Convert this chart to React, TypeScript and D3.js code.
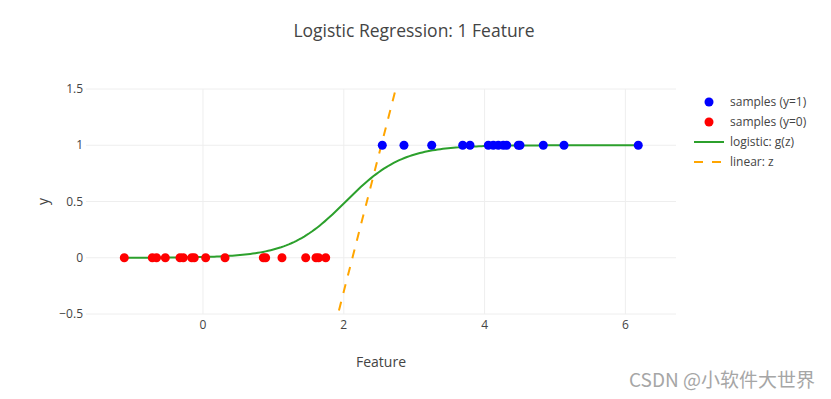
import React from "react";
import * as d3 from "d3";

const title = "Logistic Regression: 1 Feature";
const xTicks = [0, 2, 4, 6];
const yTicks = [-0.5, 0, 0.5, 1, 1.5];
const yTickLabels = ["−0.5", "0", "0.5", "1", "1.5"];
const samplesY1 = [2.547, 2.855, 3.249, 3.689, 3.793, 4.053, 4.124, 4.195, 4.266, 4.314, 4.479, 4.503, 4.834, 5.128, 6.183];
const samplesY0 = [-1.118, -0.72, -0.66, -0.535, -0.327, -0.28, -0.16, -0.124, 0.038, 0.313, 0.857, 0.89, 1.122, 1.459, 1.605, 1.643, 1.743];
const logisticWeight = 2.47;
const logisticBias = -5.01;
const linearWeight = 2.44;
const linearBias = -5.18;
const legendLabels = ["samples (y=1)", "samples (y=0)", "logistic: g(z)", "linear: z"];

const W = 831, H = 399;
const left = 86, right = 676, top = 89, bottom = 314;
const font = "'Open Sans', 'Noto Sans', sans-serif";

export default function App() {
  const x = d3.scaleLinear().domain([-1.6619, 6.719]).range([left, right]);
  const y = d3.scaleLinear().domain([-0.5, 1.5]).range([bottom, top]);
  const xMin = Math.min(...samplesY0, ...samplesY1);
  const xMax = Math.max(...samplesY0, ...samplesY1);
  const xs = d3.range(0, 201).map(i => xMin + (xMax - xMin) * i / 200);
  const logistic = xs.map(v => [v, 1 / (1 + Math.exp(-(logisticWeight * v + logisticBias)))] as [number, number]);
  const linear = xs.map(v => [v, linearWeight * v + linearBias] as [number, number]);
  const line = d3.line<[number, number]>().x(d => x(d[0])).y(d => y(d[1]));

  return (
    <svg width={W} height={H} style={{ position: "absolute", left: 0, top: 0, background: "#fff" }}>
      <defs>
        <clipPath id="plotclip">
          <rect x={left} y={top - 1} width={right - left} height={bottom - top + 2} />
        </clipPath>
      </defs>
      <text x={414} y={37} textAnchor="middle" fontFamily={font} fontSize={17.5} fill="#444">{title}</text>
      {xTicks.map(t => (
        <line key={"gx" + t} x1={x(t)} x2={x(t)} y1={top} y2={bottom} stroke="#eee" strokeWidth={1} />
      ))}
      {yTicks.map(t => (
        <line key={"gy" + t} x1={left} x2={right} y1={y(t)} y2={y(t)} stroke="#eee" strokeWidth={1} />
      ))}
      {xTicks.map(t => (
        <text key={"tx" + t} x={x(t)} y={329} textAnchor="middle" fontFamily={font} fontSize={12} fill="#444">{t}</text>
      ))}
      {yTicks.map((t, i) => (
        <text key={"ty" + t} x={83} y={y(t) + 4} textAnchor="end" fontFamily={font} fontSize={12} fill="#444">{yTickLabels[i]}</text>
      ))}
      <text x={381} y={367} textAnchor="middle" fontFamily={font} fontSize={14} fill="#444">Feature</text>
      <text transform={`translate(48,${(top + bottom) / 2}) rotate(-90)`} textAnchor="middle" fontFamily={font} fontSize={14} fill="#444">y</text>
      <g clipPath="url(#plotclip)">
        <path d={line(linear) || ""} fill="none" stroke="orange" strokeWidth={2} strokeDasharray="9,9" />
      </g>
      <path d={line(logistic) || ""} fill="none" stroke="#2ca02c" strokeWidth={2} />
      {samplesY1.map((v, i) => (
        <circle key={"b" + i} cx={x(v)} cy={y(1)} r={4.5} fill="blue" />
      ))}
      {samplesY0.map((v, i) => (
        <circle key={"r" + i} cx={x(v)} cy={y(0)} r={4.5} fill="red" />
      ))}
      <g fontFamily={font} fontSize={12} fill="#444">
        <circle cx={709} cy={102} r={4.5} fill="blue" />
        <text x={730} y={106}>{legendLabels[0]}</text>
        <circle cx={709} cy={122} r={4.5} fill="red" />
        <text x={730} y={126}>{legendLabels[1]}</text>
        <line x1={694} x2={724} y1={142} y2={142} stroke="#2ca02c" strokeWidth={2} />
        <text x={730} y={146}>{legendLabels[2]}</text>
        <line x1={694} x2={724} y1={162} y2={162} stroke="orange" strokeWidth={2} strokeDasharray="9,9" />
        <text x={730} y={166}>{legendLabels[3]}</text>
      </g>
      <text x={815} y={387} textAnchor="end" fontFamily="'Noto Sans CJK SC', 'Noto Sans', sans-serif" fontSize={19} fill="#a6a6a6">CSDN @小软件大世界</text>
    </svg>
  );
}
